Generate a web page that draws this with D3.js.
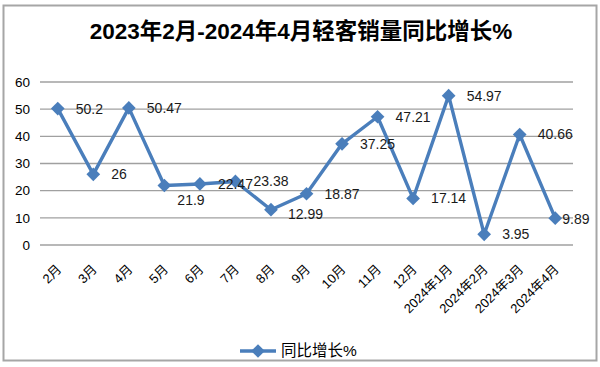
<!DOCTYPE html>
<html><head><meta charset="utf-8">
<script src="https://cdn.jsdelivr.net/npm/d3@7"></script>
<style>body{margin:0;background:#fff}svg{display:block}</style>
</head><body>
<svg id="c" width="600" height="367"></svg>
<script>
const categories = ["2月","3月","4月","5月","6月","7月","8月","9月","10月","11月","12月","2024年1月","2024年2月","2024年3月","2024年4月"];
const values = [50.2,26,50.47,21.9,22.47,23.38,12.99,18.87,37.25,47.21,17.14,54.97,3.95,40.66,9.89];
const yTicks = [0,10,20,30,40,50,60];
const seriesName = "同比增长%";
const title = "2023年2月-2024年4月轻客销量同比增长%";

const svg = d3.select("#c");
const font = "'Liberation Sans','Noto Sans CJK SC',sans-serif";
const color = "#4a7ebb";

svg.append("rect").attr("x",3.5).attr("y",5.5).attr("width",593).attr("height",355)
  .attr("fill","#fff").attr("stroke","#a6a6a6").attr("stroke-width",2);

svg.append("text").attr("x",301).attr("y",39).attr("text-anchor","middle")
  .attr("font-family",font).attr("font-weight","bold").attr("font-size",22.5)
  .attr("fill","#000").text(title);

const x = d3.scalePoint().domain(categories).range([40,573]).padding(0.5);
const y = d3.scaleLinear().domain([0,60]).range([245,82]);

const grid = svg.append("g");
grid.selectAll("line").data(yTicks).join("line")
  .attr("x1",40).attr("x2",573).attr("y1",d=>y(d)).attr("y2",d=>y(d))
  .attr("stroke","#a0a0a0").attr("stroke-width",1.3);

const yAxis = svg.append("g").attr("transform","translate(40,0)")
  .call(d3.axisLeft(y).tickValues(yTicks).tickSize(0).tickPadding(10));
yAxis.select(".domain").remove();
yAxis.selectAll("text").attr("font-family",font).attr("font-size",13.5).attr("fill","#000");

const xAxis = svg.append("g").attr("transform","translate(0,245)")
  .call(d3.axisBottom(x).tickSize(0).tickPadding(0));
xAxis.select(".domain").remove();
xAxis.selectAll(".tick text")
  .attr("font-family",font).attr("font-size",13).attr("fill","#000")
  .attr("text-anchor","end").attr("dy",0)
  .attr("transform","translate(4,25) rotate(-45)");

const line = d3.line().x((d,i)=>x(categories[i])).y(d=>y(d));
svg.append("path").datum(values).attr("d",line).attr("fill","none")
  .attr("stroke",color).attr("stroke-width",3.4).attr("stroke-linejoin","round");

const diamond = d3.symbol().type(d3.symbolDiamond2).size(120);
svg.append("g").selectAll("path").data(values).join("path")
  .attr("d",diamond).attr("fill",color)
  .attr("transform",(d,i)=>`translate(${x(categories[i])},${y(d)})`);

const labelShift = {"5月":[13,15],"8月":[17,4],"2024年4月":[7,1]};
svg.append("g").selectAll("text").data(values).join("text")
  .attr("x",(d,i)=>x(categories[i]) + (labelShift[categories[i]]||[18,0])[0])
  .attr("y",(d,i)=>y(d) + (labelShift[categories[i]]||[18,0])[1])
  .attr("dy","0.35em")
  .attr("font-family",font).attr("font-size",14).attr("fill","#1a1a1a")
  .text(d=>String(d));

// legend
const lg = svg.append("g");
lg.append("line").attr("x1",240).attr("x2",276).attr("y1",351).attr("y2",351)
  .attr("stroke",color).attr("stroke-width",3.4);
lg.append("path").attr("d",diamond).attr("fill",color).attr("transform","translate(258,351)");
lg.append("text").attr("x",281).attr("y",351).attr("dy","0.35em")
  .attr("font-family",font).attr("font-size",15.5).attr("fill","#000").text(seriesName);
</script>
</body></html>
